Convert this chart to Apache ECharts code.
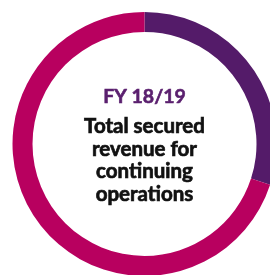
<!DOCTYPE html>
<html>
<head>
<meta charset="utf-8">
<script src="https://cdn.jsdelivr.net/npm/echarts@6/dist/echarts.min.js"></script>
<style>
html,body{margin:0;padding:0;background:#fff;}
#c{width:270px;height:275px;}
</style>
</head>
<body>
<div id="c"></div>
<script>
var categories = ['Segment A', 'Segment B'];
var values = [30, 70];
var colors = ['#541b69', '#b8005f'];
var headline = 'FY 18/19';
var caption = ['Total secured', 'revenue for', 'continuing', 'operations'];

var cx = 144.5;
var graphics = [{
  type: 'text', x: cx, y: 96.5,
  style: {text: headline, fill: '#5a1f6e', stroke: '#5a1f6e', lineWidth: 0.6, font: 'bold 19.5px Lato', align: 'center', verticalAlign: 'middle'}
}];
caption.forEach(function (line, i) {
  graphics.push({
    type: 'text', x: cx, y: 126.5 + i * 22.6,
    style: {text: line, fill: '#111', stroke: '#111', lineWidth: 0.7, font: 'bold 20.5px Lato', align: 'center', verticalAlign: 'middle'}
  });
});

var chart = echarts.init(document.getElementById('c'), null, {renderer: 'canvas'});
chart.setOption({
  animation: false,
  series: [{
    type: 'pie',
    center: [cx, 144],
    radius: [112, 132],
    startAngle: 90,
    clockwise: true,
    label: {show: false},
    labelLine: {show: false},
    emphasis: {disabled: true},
    itemStyle: {borderWidth: 0},
    data: categories.map(function (c, i) {
      return {name: c, value: values[i], itemStyle: {color: colors[i]}};
    })
  }],
  graphic: graphics
});
</script>
</body>
</html>
